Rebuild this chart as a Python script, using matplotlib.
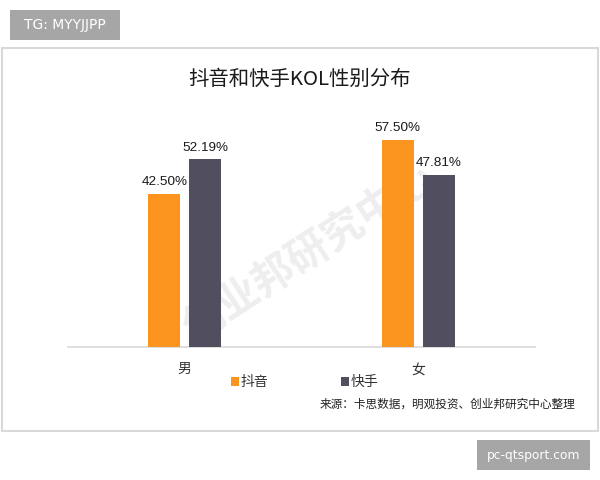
# -*- coding: utf-8 -*-
import matplotlib
matplotlib.use('Agg')
import matplotlib.pyplot as plt
from matplotlib.patches import Rectangle

plt.rcParams['font.family'] = ['Noto Sans CJK SC', 'DejaVu Sans']

categories = ['男', '女']
douyin = [42.50, 57.50]
kuaishou = [52.19, 47.81]
series_names = ['抖音', '快手']

title = '抖音和快手KOL性别分布'
source = '来源：卡思数据，明观投资、创业邦研究中心整理'
watermark = '创业邦研究中心'
badge_left = 'TG: MYYJJPP'
badge_right = 'pc-qtsport.com'

ORANGE = '#fb951f'
DARK = '#514e5f'
W, H = 600, 480

fig = plt.figure(figsize=(6, 4.8), dpi=100)


# pixel box (top-left origin) to figure fractions
def box(x0, y0, x1, y1):
    return [x0 / W, 1 - y1 / H, (x1 - x0) / W, (y1 - y0) / H]


# outer frame and grey badges
x, y, w, h = box(1.5, 47.5, 598, 431)
fig.add_artist(Rectangle((x, y), w, h, transform=fig.transFigure,
                         fc='white', ec='#d9d9d9', lw=1.5, zorder=-2))
for x0, y0, x1, y1, txt, fs in [(10, 10, 120, 40, badge_left, 10),
                                (477, 440, 590, 470, badge_right, 8.8)]:
    x, y, w, h = box(x0, y0, x1, y1)
    fig.add_artist(Rectangle((x, y), w, h, transform=fig.transFigure,
                             fc='#a6a6a6', ec='none', zorder=-2))
    fig.text(x + w / 2, y + h / 2, txt, color='white', fontsize=fs,
             family='DejaVu Sans', ha='center', va='center')

ax = fig.add_axes(box(68, 60, 535, 347))
ax.patch.set_alpha(0)
ax.set_zorder(2)

bar_w = 0.137
off = 0.0876
pos = range(len(categories))
b1 = ax.bar([p - off for p in pos], douyin, bar_w, color=ORANGE, label=series_names[0], zorder=3)
b2 = ax.bar([p + off for p in pos], kuaishou, bar_w, color=DARK, label=series_names[1], zorder=3)

for bars, vals in [(b1, douyin), (b2, kuaishou)]:
    for b, v in zip(bars, vals):
        ax.annotate(f'{v:.2f}%', (b.get_x() + b.get_width() / 2, v),
                    xytext=(0, 4), textcoords='offset points', ha='center', va='bottom',
                    fontsize=9.7, color='#1a1a1a', family='Liberation Sans', zorder=4)

ax.set_xlim(-0.5, 1.5)
ax.set_ylim(0, 287 / 3.6)
ax.set_xticks(list(pos))
ax.set_xticklabels(categories, fontsize=10, color='#333333')
ax.tick_params(axis='x', length=0, pad=11)
ax.set_yticks([])
for s in ['top', 'left', 'right']:
    ax.spines[s].set_visible(False)
ax.spines['bottom'].set_color('#d9d9d9')
ax.spines['bottom'].set_linewidth(1.2)

fig.text(300 / W, 1 - 79 / H, title, fontsize=14.7, color='#1a1a1a', ha='center', va='center')
fig.text(447.5 / W, 1 - 404 / H, source, fontsize=8.4, color='#222222', ha='center', va='center')

# watermark sits behind the bars
fig.text(310 / W, 1 - 254 / H, watermark, fontsize=30, fontweight='bold', color='#eeeeee',
         rotation=33, ha='center', va='center', rotation_mode='anchor', zorder=1)

leg = ax.legend(loc='center', bbox_to_anchor=(304.5 / W, 1 - 382 / H), bbox_transform=fig.transFigure,
                ncol=2, frameon=False, fontsize=10, handlelength=0.6, handleheight=0.6,
                handletextpad=0.1, columnspacing=5.2, labelcolor='#333333')

fig.savefig('out.png', dpi=100)
